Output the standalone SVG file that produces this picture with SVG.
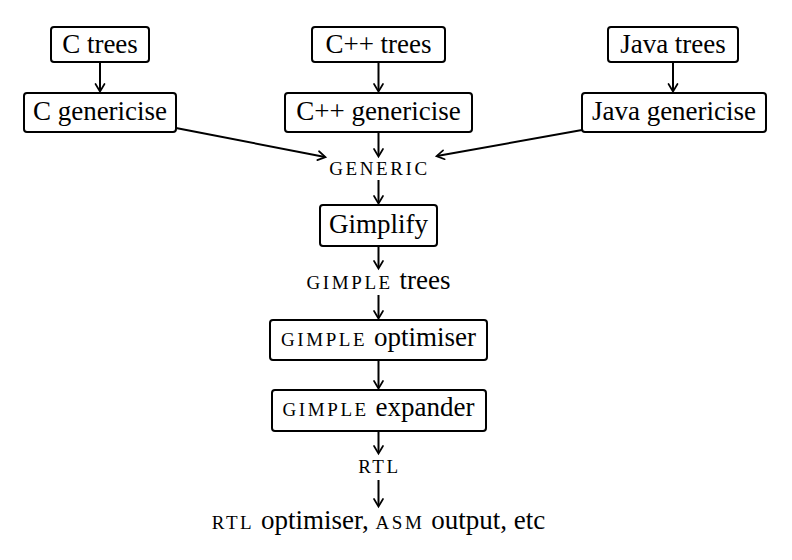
<svg xmlns="http://www.w3.org/2000/svg" width="792" height="560" viewBox="0 0 792 560">
<defs>
<marker id="ah" markerUnits="userSpaceOnUse" markerWidth="14" markerHeight="14" viewBox="-9 -7 11 14" refX="0" refY="0" orient="auto">
<path d="M-7,-4.5 Q-2,-1.5 0.5,0 Q-2,1.5 -7,4.5" fill="none" stroke="#000" stroke-width="1.7" stroke-linecap="round"/>
</marker>
</defs>
<rect width="792" height="560" fill="#fff"/>
<g id="connectors" stroke="#000" stroke-width="2" marker-end="url(#ah)">
<line x1="100" y1="62" x2="100" y2="91"/>
<line x1="378.5" y1="62" x2="378.5" y2="91"/>
<line x1="673" y1="62" x2="673" y2="91"/>
<line x1="176" y1="128" x2="325" y2="157"/>
<line x1="582" y1="130" x2="437" y2="156"/>
<line x1="378.5" y1="132" x2="378.5" y2="156"/>
<line x1="378.5" y1="180" x2="378.5" y2="203"/>
<line x1="378.5" y1="246" x2="378.5" y2="268"/>
<line x1="378.5" y1="295" x2="378.5" y2="318"/>
<line x1="378.5" y1="360" x2="378.5" y2="388"/>
<line x1="378.5" y1="431" x2="378.5" y2="453"/>
<line x1="378.5" y1="480" x2="378.5" y2="506"/>
</g>
<g id="nodes" fill="#fff" stroke="#000" stroke-width="2">
<g id="c-trees"><rect x="51" y="27" width="98" height="35" rx="3"/></g>
<g id="cpp-trees"><rect x="312" y="27" width="133" height="35" rx="3"/></g>
<g id="java-trees"><rect x="608" y="27" width="130" height="35" rx="3"/></g>
<g id="c-gen"><rect x="24" y="93" width="152" height="39" rx="3"/></g>
<g id="cpp-gen"><rect x="285" y="93" width="187" height="39" rx="3"/></g>
<g id="java-gen"><rect x="582" y="93" width="184" height="39" rx="3"/></g>
<g id="gimplify"><rect x="320" y="205" width="117" height="41" rx="3"/></g>
<g id="gimple-opt"><rect x="270" y="320" width="217" height="40" rx="3"/></g>
<g id="gimple-exp"><rect x="272" y="390" width="214" height="41" rx="3"/></g>
</g>
<g id="labels" fill="#000" text-anchor="middle" font-size="27">
<text font-family="Liberation Serif" x="100" y="53">C trees</text>
<text font-family="Liberation Serif" x="378.5" y="53">C++ trees</text>
<text font-family="Liberation Serif" x="673" y="53">Java trees</text>
<text font-family="Liberation Serif" x="100" y="120">C genericise</text>
<text font-family="Liberation Serif" x="378.5" y="120">C++ genericise</text>
<text font-family="Liberation Serif" x="674" y="120">Java genericise</text>
<text font-family="Liberation Serif" x="379.5" y="175" font-size="19" letter-spacing="2.6">GENERIC</text>
<text font-family="Liberation Serif" x="378.5" y="233">Gimplify</text>
<text font-family="Liberation Serif" x="378.5" y="289"><tspan font-size="19" letter-spacing="2.6">GIMPLE</tspan> trees</text>
<text font-family="Liberation Serif" x="378.5" y="346"><tspan font-size="19" letter-spacing="2.6">GIMPLE</tspan> optimiser</text>
<text font-family="Liberation Serif" x="378.5" y="416"><tspan font-size="19" letter-spacing="2.6">GIMPLE</tspan> expander</text>
<text font-family="Liberation Serif" x="379.5" y="473" font-size="19" letter-spacing="2.6">RTL</text>
<text font-family="Liberation Serif" x="378.5" y="529"><tspan font-size="19" letter-spacing="2.6">RTL</tspan> optimiser, <tspan font-size="19" letter-spacing="2.6">ASM</tspan> output, etc</text>
</g>
</svg>
